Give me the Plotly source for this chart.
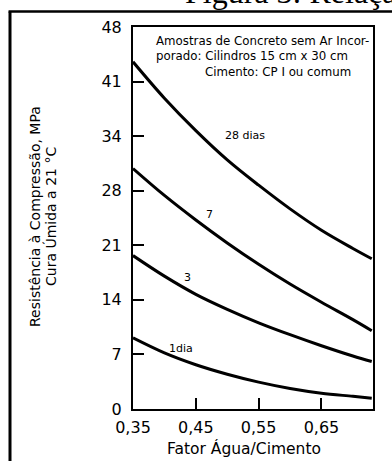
import plotly.graph_objects as go

# Fator água/cimento (eixo x) e resistência à compressão em MPa por idade de cura
fator_ac = [0.35, 0.40, 0.45, 0.50, 0.55, 0.60, 0.65, 0.70, 0.73]
res_28_dias = [43.9, 39.3, 35.2, 31.5, 28.3, 25.3, 22.6, 20.3, 19.0]
res_7_dias = [30.4, 27.0, 23.9, 21.0, 18.3, 15.8, 13.5, 11.3, 9.9]
res_3_dias = [19.4, 16.8, 14.5, 12.6, 10.9, 9.4, 8.0, 6.7, 6.0]
res_1_dia = [9.0, 7.1, 5.6, 4.4, 3.4, 2.6, 2.0, 1.6, 1.35]

# Marcas do eixo y (posições em MPa equivalentes a múltiplos de 1000 psi)
y_ticks_pos = [0, 6.9, 13.8, 20.7, 27.6, 34.5, 41.4, 48.3]
y_ticks_txt = ["0", "7", "14", "21", "28", "34", "41", "48"]
x_ticks_pos = [0.35, 0.45, 0.55, 0.65]

# Rótulos das curvas: (texto, x, y)
rotulos = [
    ("28 dias", 0.528, 34.6),
    ("7", 0.471, 24.6),
    ("3", 0.4365, 16.6),
    ("1dia", 0.426, 7.7),
]

FONTE = "DejaVu Sans"
PRETO = "#000000"

fig = go.Figure()
for serie in (res_28_dias, res_7_dias, res_3_dias, res_1_dia):
    fig.add_trace(go.Scatter(
        x=fator_ac, y=serie, mode="lines",
        line=dict(color=PRETO, width=3, shape="spline", smoothing=1.0),
        hoverinfo="skip", showlegend=False,
    ))

anotacoes = []
for texto, xv, yv in rotulos:
    anotacoes.append(dict(text=texto, x=xv, y=yv, xref="x", yref="y",
                          showarrow=False, font=dict(family=FONTE, size=11, color=PRETO)))

# Quadro de informações no canto superior
info = [
    ("Amostras de Concreto sem Ar Incor-", 0.0875, 0.9634),
    ("porado: Cilindros 15 cm x 30 cm", 0.0875, 0.9228),
    ("Cimento: CP I ou comum", 0.2917, 0.8822),
]
for texto, xp, yp in info:
    anotacoes.append(dict(text=texto, x=xp, y=yp, xref="paper", yref="paper",
                          xanchor="left", yanchor="middle", showarrow=False,
                          font=dict(family=FONTE, size=11.8, color=PRETO)))

# Títulos dos eixos
anotacoes.append(dict(text="Resistência à Compressão, MPa", x=-0.4083, y=0.5026,
                      xref="paper", yref="paper", textangle=-90, showarrow=False,
                      xanchor="center", yanchor="middle",
                      font=dict(family=FONTE, size=14, color=PRETO)))
anotacoes.append(dict(text="Cura Úmida a 21 °C", x=-0.3458, y=0.5026,
                      xref="paper", yref="paper", textangle=-90, showarrow=False,
                      xanchor="center", yanchor="middle",
                      font=dict(family=FONTE, size=14, color=PRETO)))
anotacoes.append(dict(text="Fator Água/Cimento", x=0.4625, y=-0.1047,
                      xref="paper", yref="paper", showarrow=False,
                      xanchor="center", yanchor="middle",
                      font=dict(family=FONTE, size=15.5, color=PRETO)))

# Legenda da figura, parcialmente fora da página
anotacoes.append(dict(text="Figura 3: Relação", x=0.2083, y=1.0288, yshift=4,
                      xref="paper", yref="paper", showarrow=False,
                      xanchor="left", yanchor="bottom",
                      font=dict(family="Liberation Serif", size=32, color=PRETO)))

formas = [
    dict(type="line", xref="paper", yref="paper", x0=-0.5125, x1=-0.5125,
         y0=1.0406, y1=-0.25, line=dict(color=PRETO, width=3)),
    dict(type="line", xref="paper", yref="paper", x0=-0.5185, x1=1.2,
         y0=1.0406, y1=1.0406, line=dict(color=PRETO, width=2.5)),
]

fig.update_layout(
    width=392, height=461,
    margin=dict(l=133, r=19, t=27, b=52),
    paper_bgcolor="white", plot_bgcolor="white",
    separators=",.",
    annotations=anotacoes, shapes=formas,
    font=dict(family=FONTE, color=PRETO),
)
fig.update_xaxes(
    range=[0.35, 0.732], tickvals=x_ticks_pos, tickformat=".2f",
    ticks="inside", ticklen=11, tickwidth=2, tickcolor=PRETO,
    showline=True, mirror=True, linecolor=PRETO, linewidth=2,
    showgrid=False, zeroline=False, ticklabelstandoff=3,
    tickfont=dict(family=FONTE, size=16, color=PRETO),
)
fig.update_yaxes(
    range=[0, 48.3], tickvals=y_ticks_pos, ticktext=y_ticks_txt,
    ticks="inside", ticklen=11, tickwidth=2, tickcolor=PRETO,
    showline=True, mirror=True, linecolor=PRETO, linewidth=2,
    showgrid=False, zeroline=False, ticklabelstandoff=6,
    tickfont=dict(family=FONTE, size=16, color=PRETO),
)

fig.write_html("out.html")
